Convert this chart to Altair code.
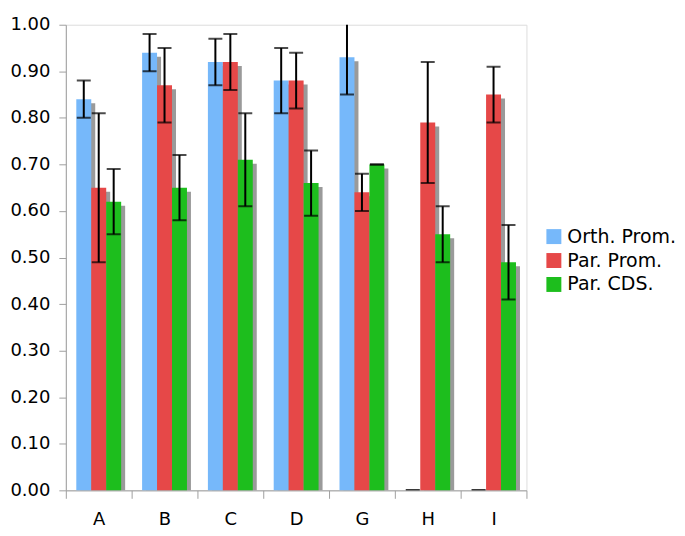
import altair as alt
import pandas as pd

cats = ["A", "B", "C", "D", "G", "H", "I"]
series = ["Orth. Prom.", "Par. Prom.", "Par. CDS."]
colors = ["#76B8FA", "#E64848", "#1DBE1D"]

orth = [0.84, 0.94, 0.92, 0.88, 0.93, 0.00, 0.00]
orth_lo = [0.80, 0.90, 0.87, 0.81, 0.85, 0.00, 0.00]
orth_hi = [0.88, 0.98, 0.97, 0.95, 1.01, 0.00, 0.00]

par = [0.65, 0.87, 0.92, 0.88, 0.64, 0.79, 0.85]
par_lo = [0.49, 0.79, 0.86, 0.82, 0.60, 0.66, 0.79]
par_hi = [0.81, 0.95, 0.98, 0.94, 0.68, 0.92, 0.91]

cds = [0.62, 0.65, 0.71, 0.66, 0.70, 0.55, 0.49]
cds_lo = [0.55, 0.58, 0.61, 0.59, 0.70, 0.49, 0.41]
cds_hi = [0.69, 0.72, 0.81, 0.73, 0.70, 0.61, 0.57]

y_ticks = [0.0, 0.1, 0.2, 0.3, 0.4, 0.5, 0.6, 0.7, 0.8, 0.9, 1.0]

rows = []
for s, vals, los, his in [
    (series[0], orth, orth_lo, orth_hi),
    (series[1], par, par_lo, par_hi),
    (series[2], cds, cds_lo, cds_hi),
]:
    for c, v, lo, hi in zip(cats, vals, los, his):
        rows.append({"cat": c, "series": s, "value": v, "lo": lo, "hi": hi, "zero": 0.0})
df = pd.DataFrame(rows)

FONT = "DejaVu Sans"
W = 462
H = 467
BAND = W / len(cats)
SHIFT = 4

x_enc = alt.X(
    "cat:N",
    sort=cats,
    scale=alt.Scale(paddingInner=0, paddingOuter=0),
    axis=alt.Axis(
        title=None,
        labelAngle=0,
        tickBand="extent",
        tickSize=8,
        labelPadding=12,
        labelFontSize=18,
        labelFont=FONT,
        labelColor="#000000",
        domainColor="#A0A0A0",
        tickColor="#A0A0A0",
    ),
)
xo_enc = alt.XOffset(
    "series:N",
    sort=series,
    scale=alt.Scale(domain=series, paddingInner=0, paddingOuter=0.7, range=[0, BAND]),
)
xo_shadow = alt.XOffset(
    "series:N",
    sort=series,
    scale=alt.Scale(domain=series, paddingInner=0, paddingOuter=0.7, range=[SHIFT, BAND + SHIFT]),
)
y_scale = alt.Scale(domain=[0, 1], nice=False)
y_enc = alt.Y(
    "value:Q",
    scale=y_scale,
    stack=None,
    axis=alt.Axis(
        title=None,
        values=y_ticks,
        format=".2f",
        tickSize=7,
        labelPadding=9,
        labelFontSize=18,
        labelFont=FONT,
        labelColor="#000000",
        domainColor="#A0A0A0",
        tickColor="#A0A0A0",
        grid=False,
    ),
)

base = alt.Chart(df)

shadow = (
    base.transform_filter("datum.value > 0")
    .mark_bar(color="#9A9A9A", yOffset=SHIFT, y2Offset=0)
    .encode(x=x_enc, xOffset=xo_shadow, y=y_enc, y2=alt.Y2("zero:Q"))
)

bars = base.mark_bar().encode(
    x=x_enc,
    xOffset=xo_enc,
    y=y_enc,
    color=alt.Color(
        "series:N",
        sort=series,
        scale=alt.Scale(domain=series, range=colors),
        legend=alt.Legend(
            title=None,
            orient="none",
            legendX=480,
            legendY=203,
            symbolType="square",
            symbolSize=225,
            symbolStrokeWidth=0,
            labelFontSize=19,
            labelFont=FONT,
            labelColor="#000000",
            rowPadding=4,
        ),
    ),
)

err = base.mark_rule(color="#000000", strokeWidth=2, clip=True).encode(
    x=x_enc,
    xOffset=xo_enc,
    y=alt.Y("lo:Q", scale=y_scale),
    y2="hi:Q",
)
cap_lo = base.mark_tick(color="#000000", thickness=2, size=14, clip=True).encode(
    x=x_enc, xOffset=xo_enc, y=alt.Y("lo:Q", scale=y_scale)
)
cap_hi = base.mark_tick(color="#000000", thickness=2, size=14, clip=True).encode(
    x=x_enc, xOffset=xo_enc, y=alt.Y("hi:Q", scale=y_scale)
)

chart = (
    alt.layer(shadow, bars, err, cap_lo, cap_hi)
    .resolve_scale(xOffset="independent")
    .properties(width=W, height=H, padding={"left": 1, "top": 7, "right": 0, "bottom": 0})
    .configure_view(stroke=None)
    .configure(background="#FFFFFF")
)

chart.save("out.html", embed_options={"renderer": "svg", "actions": False})
